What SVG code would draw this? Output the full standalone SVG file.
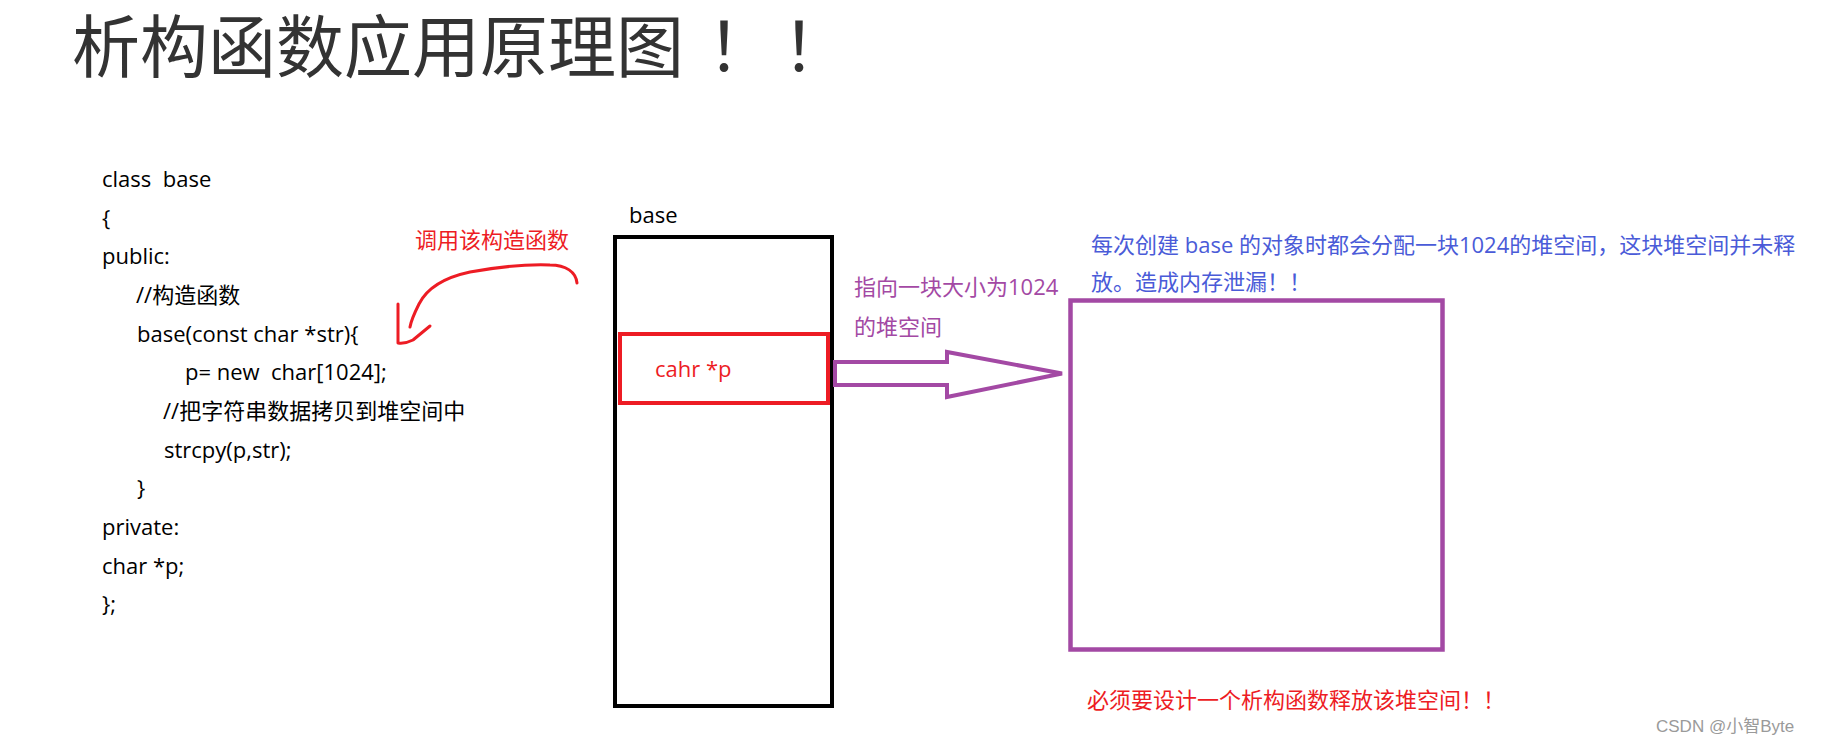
<svg xmlns="http://www.w3.org/2000/svg" width="1822" height="744" viewBox="0 0 1822 744">
  <style>
    .title { font-family: "Noto Sans CJK SC", sans-serif; font-size: 68px; fill: #333333; }
    .code { font-family: "Open Sans", "Noto Sans CJK SC", sans-serif; font-size: 22px; fill: #000000; }
    .red { font-family: "Open Sans", "Noto Sans CJK SC", sans-serif; font-size: 22px; fill: #ed1c24; }
    .purple { font-family: "Open Sans", "Noto Sans CJK SC", sans-serif; font-size: 22px; fill: #a349a4; }
    .blue { font-family: "Open Sans", "Noto Sans CJK SC", sans-serif; font-size: 22px; fill: #4a5bd8; }
    .wm { font-family: "Liberation Sans", "Noto Sans CJK SC", sans-serif; font-size: 17px; fill: #9a9a9a; }
  </style>
  <rect width="1822" height="744" fill="#ffffff"/>

  <g id="title">
    <text class="title" x="72" y="72">析构函数应用原理图<tspan dx="23">！</tspan><tspan dx="7">！</tspan></text>
  </g>

  <g id="code">
    <text class="code" x="102" y="187" xml:space="preserve">class  base</text>
    <text class="code" x="102" y="225.5">{</text>
    <text class="code" x="102" y="264">public:</text>
    <text class="code" x="136" y="303">//构造函数</text>
    <text class="code" x="137" y="341.5">base(const char *str){</text>
    <text class="code" x="185" y="380" xml:space="preserve">p= new  char[1024];</text>
    <text class="code" x="163" y="419">//把字符串数据拷贝到堆空间中</text>
    <text class="code" x="164" y="457.5">strcpy(p,str);</text>
    <text class="code" x="137" y="496">}</text>
    <text class="code" x="102" y="535">private:</text>
    <text class="code" x="102" y="573.5">char *p;</text>
    <text class="code" x="102" y="612">};</text>
  </g>

  <g id="call-note">
    <text class="red" x="415" y="248">调用该构造函数</text>
  </g>

  <g id="base-object">
    <text class="code" x="629" y="223">base</text>
    <rect x="615" y="237" width="217" height="469" fill="none" stroke="#000000" stroke-width="4"/>
  </g>

  <g id="pointer-p">
    <rect x="620" y="334" width="208" height="69" fill="none" stroke="#ed1c24" stroke-width="4"/>
    <text class="red" x="655" y="377">cahr *p</text>
  </g>

  <g id="pointer-note">
    <text class="purple" x="854" y="295">指向一块大小为1024</text>
    <text class="purple" x="854" y="335">的堆空间</text>
  </g>

  <g id="heap">
    <rect x="1070.5" y="300.5" width="372" height="349" fill="none" stroke="#a349a4" stroke-width="4.5"/>
  </g>

  <g id="heap-note">
    <text class="blue" x="1091" y="253">每次创建 base 的对象时都会分配一块1024的堆空间，这块堆空间并未释</text>
    <text class="blue" x="1091" y="290">放。造成内存泄漏！！</text>
  </g>

  <g id="destructor-note">
    <text class="red" x="1087" y="708">必须要设计一个析构函数释放该堆空间！！</text>
  </g>

  <g id="connectors">
    <path d="M 577 283 C 576 272, 566 265, 550 265 C 522 264, 492 268, 470 272 C 442 278, 426 290, 419 304 C 414 314, 411 321, 410 327" fill="none" stroke="#ed1c24" stroke-width="3" stroke-linecap="round" stroke-linejoin="round"/>
    <path d="M 398 304 L 398 343 Q 405 344, 413 340 L 430 326" fill="none" stroke="#ed1c24" stroke-width="3" stroke-linecap="round" stroke-linejoin="round"/>
    <polygon points="835,362 947,362 947,352 1062,373.5 947,397 947,385 835,385" fill="none" stroke="#a349a4" stroke-width="4"/>
  </g>

  <text class="wm" x="1656" y="732">CSDN @小智Byte</text>
</svg>
